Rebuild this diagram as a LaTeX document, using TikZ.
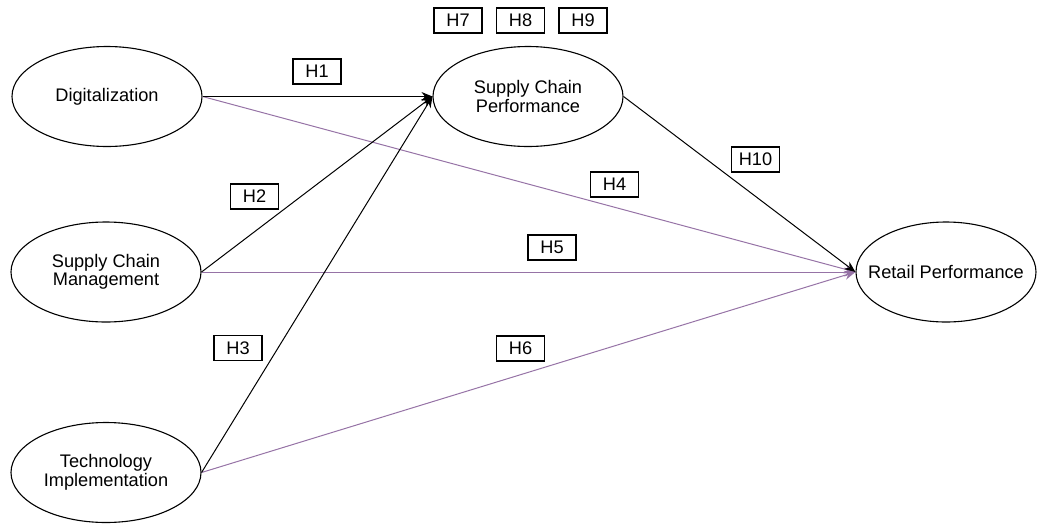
\documentclass[tikz,border=0pt]{standalone}
\usepackage{fontspec}
\setmainfont{Liberation Sans}
\usetikzlibrary{shapes.geometric,arrows.meta}
\definecolor{purp}{HTML}{9673A6}
\tikzset{
  construct/.style={ellipse,draw=black,line width=1.1pt,fill=white,minimum width=190pt,minimum height=100pt,inner sep=0pt,align=center,font=\fontsize{18.2}{18.5}\selectfont},
  plain/.style={inner sep=0pt,font=\fontsize{18.2}{18.5}\selectfont},
  hbox/.style={rectangle,draw=black,line width=1.1pt,fill=white,minimum width=48pt,minimum height=25pt,inner sep=0pt,font=\fontsize{18.2}{18.5}\selectfont},
  blk/.style={draw=black,line width=1pt,-{Stealth[length=11pt,width=9pt]}},
  prp/.style={draw=purp,line width=1pt,-{Stealth[length=11pt,width=9pt]}}
}
\begin{document}
\begin{tikzpicture}[x=1pt,y=-1pt]
\path[use as bounding box] (0,0) rectangle (1037,523);
\node[construct] (dig) at (107,96.5) {Digitalization};
\node[construct] (scp) at (528,96.5) {Supply Chain\\Performance};
\node[construct] (scm) at (106,272) {Supply Chain\\Management};
\node[construct] (ti) at (106,472.5) {Technology\\Implementation};
\node[construct,minimum width=180pt] (rp) at (946,272) {};
\node[plain] (rptext) at (rp.center) {Retail Performance};

\draw[prp] (dig.east) -- (rp.west);
\draw[prp] (scm.east) -- (rp.west);
\draw[prp] (ti.east) -- (rp.west);
\draw[blk] (dig.east) -- (scp.west);
\draw[blk] (scm.east) -- (scp.west);
\draw[blk] (ti.east) -- (scp.west);
\draw[blk] (scp.east) -- (rp.west);

\node[hbox] (h7) at (458,20.5) {H7};
\node[hbox] (h8) at (520.5,20.5) {H8};
\node[hbox] (h9) at (583,20.5) {H9};
\node[hbox] (h1) at (317,71.5) {H1};
\node[hbox] (h2) at (254.5,196.5) {H2};
\node[hbox] (h4) at (614.5,184.5) {H4};
\node[hbox] (h10) at (755.5,159.5) {H10};
\node[hbox] (h5) at (552,247.5) {H5};
\node[hbox] (h3) at (238,348) {H3};
\node[hbox] (h6) at (520.5,348.5) {H6};
\end{tikzpicture}
\end{document}
